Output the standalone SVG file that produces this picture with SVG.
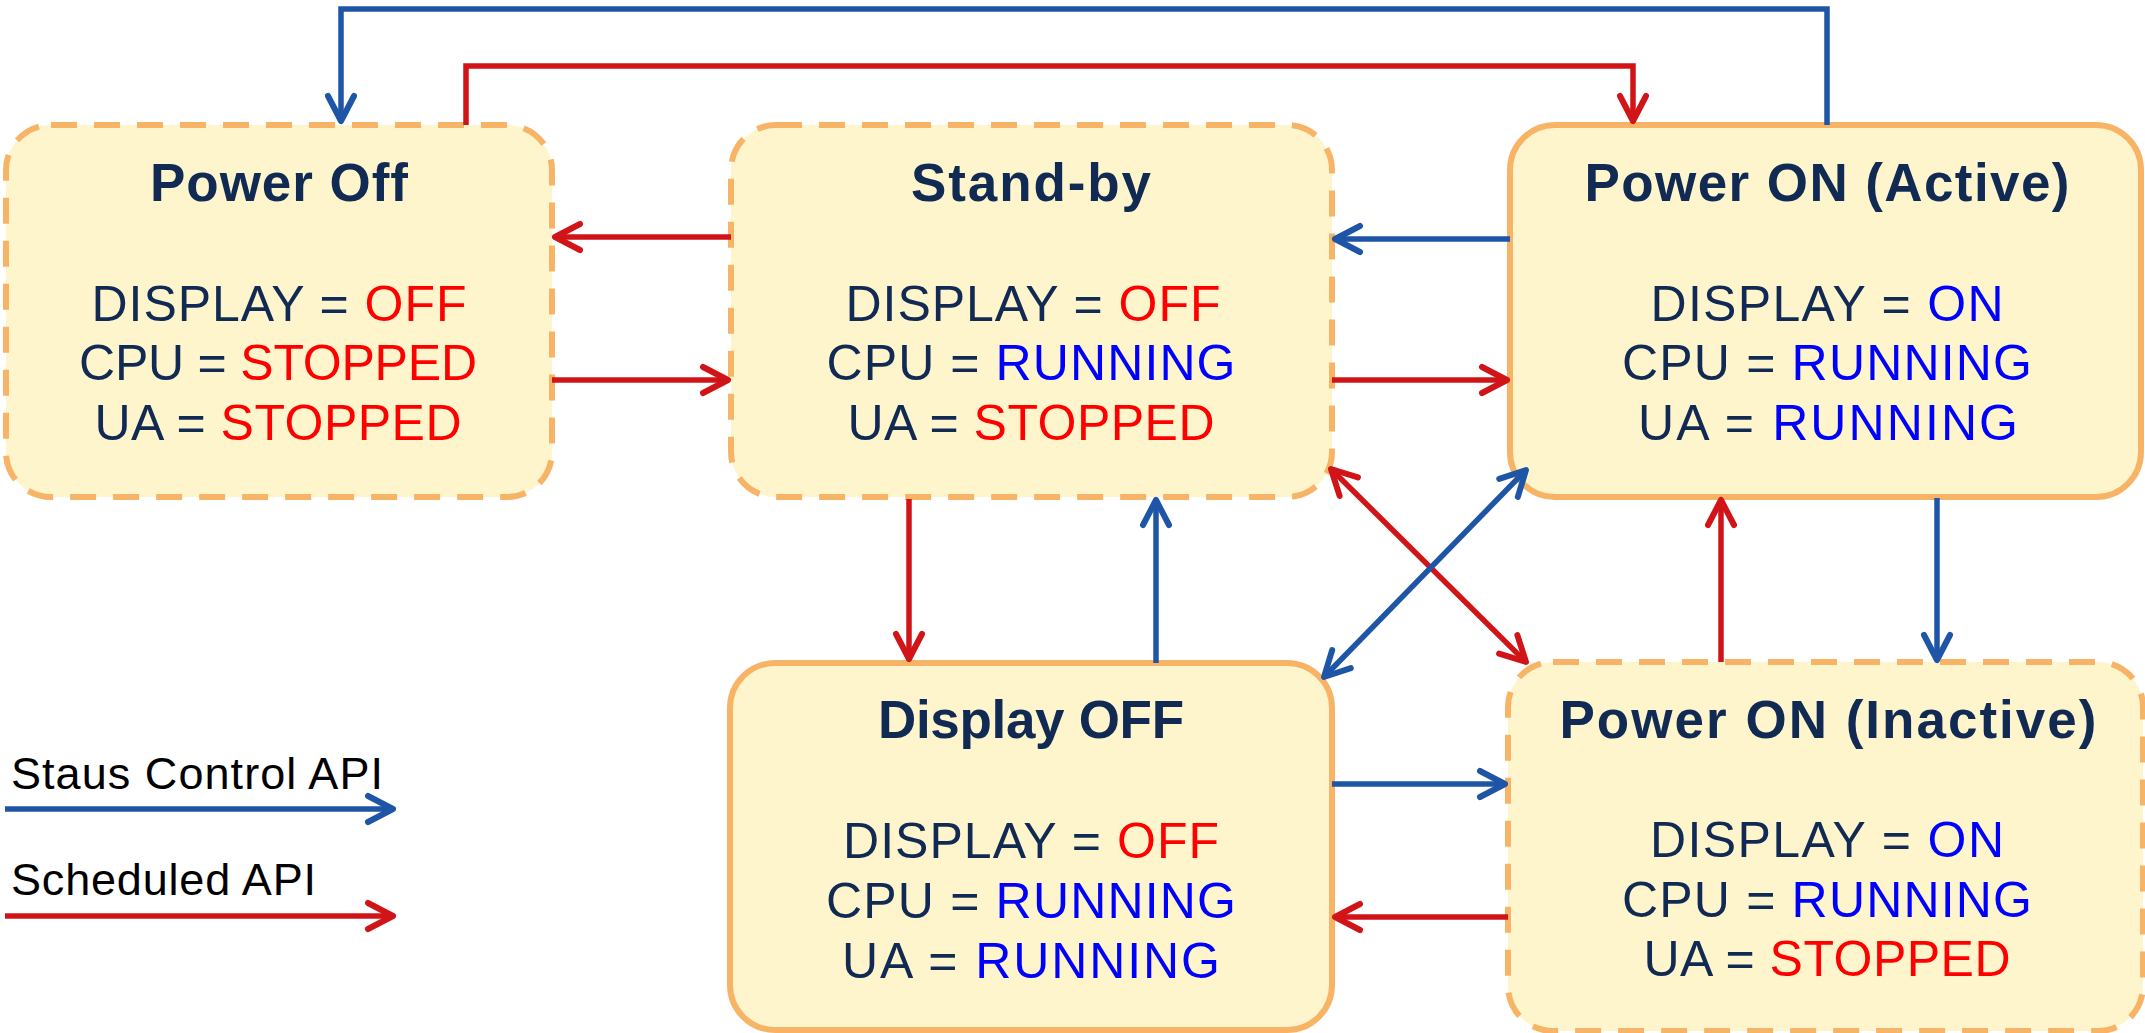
<svg xmlns="http://www.w3.org/2000/svg" width="2145" height="1033" viewBox="0 0 2145 1033">
<style>
.box{fill:#FFF5CC;stroke:#F8B466;stroke-width:6}
.dash{stroke-dasharray:26 17}
.t{font-family:"Liberation Sans",Arial,sans-serif;font-weight:bold;font-size:53px;fill:#102A54;text-anchor:middle}
.b{font-family:"Liberation Sans",Arial,sans-serif;font-size:50px;fill:#102A54;text-anchor:middle}
.r{fill:#FF0000}
.u{fill:#0000FF}
.lg{font-family:"Liberation Sans",Arial,sans-serif;font-size:45px;fill:#000}
.cb{fill:none;stroke:#1F55A7;stroke-width:5.5;stroke-linejoin:miter;marker-end:url(#ab)}
.cr{fill:none;stroke:#D01418;stroke-width:5.5;stroke-linejoin:miter;marker-end:url(#ar)}
</style>
<defs>
<marker id="ab" markerUnits="userSpaceOnUse" markerWidth="80" markerHeight="80" viewBox="-40 -40 80 80" refX="0" refY="0" orient="auto-start-reverse" overflow="visible">
<path d="M-25,-13 L0,0 L-25,13" fill="none" stroke="#1F55A7" stroke-width="6" stroke-linecap="round" stroke-linejoin="round"/>
</marker>
<marker id="ar" markerUnits="userSpaceOnUse" markerWidth="80" markerHeight="80" viewBox="-40 -40 80 80" refX="0" refY="0" orient="auto-start-reverse" overflow="visible">
<path d="M-25,-13 L0,0 L-25,13" fill="none" stroke="#D01418" stroke-width="6" stroke-linecap="round" stroke-linejoin="round"/>
</marker>
</defs>
<rect width="2145" height="1033" fill="#FFFFFF"/>

<g id="power-off">
<rect class="box dash" x="6" y="125" width="546" height="372" rx="45" ry="45"/>
<text class="t" x="279" y="201" textLength="258">Power Off</text>
<text class="b" x="279" y="321" textLength="375">DISPLAY = <tspan class="r">OFF</tspan></text>
<text class="b" x="278" y="380" textLength="398">CPU = <tspan class="r">STOPPED</tspan></text>
<text class="b" x="278" y="440" textLength="367">UA = <tspan class="r">STOPPED</tspan></text>
</g>

<g id="stand-by">
<rect class="box dash" x="731" y="125" width="601" height="372" rx="45" ry="45"/>
<text class="t" x="1031" y="201" textLength="240">Stand-by</text>
<text class="b" x="1033" y="321" textLength="375">DISPLAY = <tspan class="r">OFF</tspan></text>
<text class="b" x="1031" y="380" textLength="409">CPU = <tspan class="u">RUNNING</tspan></text>
<text class="b" x="1031" y="440" textLength="367">UA = <tspan class="r">STOPPED</tspan></text>
</g>

<g id="power-on-active">
<rect class="box" x="1510" y="125" width="631" height="372" rx="45" ry="45"/>
<text class="t" x="1827" y="201" textLength="485">Power ON (Active)</text>
<text class="b" x="1827" y="321" textLength="353">DISPLAY = <tspan class="u">ON</tspan></text>
<text class="b" x="1827" y="380" textLength="410">CPU = <tspan class="u">RUNNING</tspan></text>
<text class="b" x="1828" y="440" textLength="380">UA = <tspan class="u">RUNNING</tspan></text>
</g>

<g id="display-off">
<rect class="box" x="730" y="663" width="602" height="367" rx="45" ry="45"/>
<text class="t" x="1031" y="738" textLength="306">Display OFF</text>
<text class="b" x="1031" y="858" textLength="376">DISPLAY = <tspan class="r">OFF</tspan></text>
<text class="b" x="1031" y="918" textLength="410">CPU = <tspan class="u">RUNNING</tspan></text>
<text class="b" x="1031" y="978" textLength="378">UA = <tspan class="u">RUNNING</tspan></text>
</g>

<g id="power-on-inactive">
<rect class="box dash" x="1508" y="662" width="635" height="369" rx="45" ry="45"/>
<text class="t" x="1828" y="738" textLength="537">Power ON (Inactive)</text>
<text class="b" x="1827" y="857" textLength="354">DISPLAY = <tspan class="u">ON</tspan></text>
<text class="b" x="1827" y="917" textLength="410">CPU = <tspan class="u">RUNNING</tspan></text>
<text class="b" x="1827" y="976" textLength="367">UA = <tspan class="r">STOPPED</tspan></text>
</g>

<g id="legend">
<text class="lg" x="11" y="789" textLength="372">Staus Control API</text>
<text class="lg" x="11" y="895" textLength="305">Scheduled API</text>
</g>

<g id="connectors">
<path class="cb" d="M1827,125 V9 H341 V121"/>
<path class="cr" d="M466,125 V66 H1633 V121"/>
<path class="cr" d="M731,237 H555"/>
<path class="cr" d="M552,380 H728"/>
<path class="cb" d="M1510,239 H1335"/>
<path class="cr" d="M1332,380 H1507"/>
<path class="cr" d="M909,499 V659"/>
<path class="cb" d="M1156,663 V500"/>
<path class="cr" d="M1331,469 L1526,662" style="marker-start:url(#ar)"/>
<path class="cb" d="M1324,677 L1526,470" style="marker-start:url(#ab)"/>
<path class="cr" d="M1721,662 V500"/>
<path class="cb" d="M1937,498 V660"/>
<path class="cb" d="M1332,784 H1505"/>
<path class="cr" d="M1508,917 H1335"/>
<path class="cb" d="M5,809 H393"/>
<path class="cr" d="M5,916 H393"/>
</g>
</svg>
